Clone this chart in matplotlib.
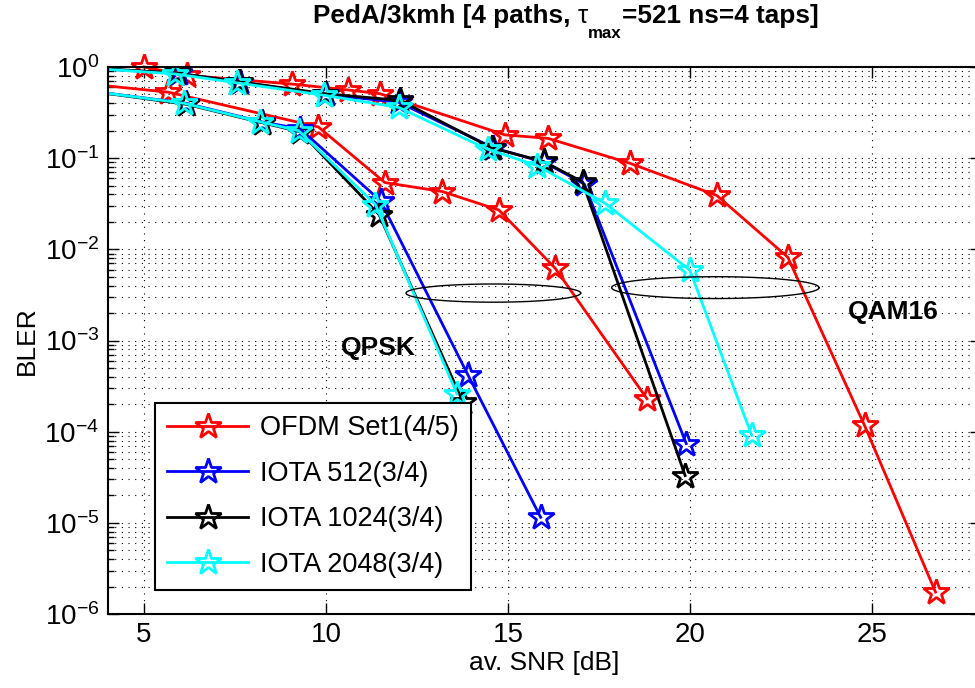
import numpy as np
import matplotlib
matplotlib.use("Agg")
import matplotlib.pyplot as plt

plt.rcParams['font.family'] = ['Liberation Sans', 'DejaVu Sans']
plt.rcParams['mathtext.fontset'] = 'custom'
plt.rcParams['mathtext.rm'] = 'Liberation Sans'
plt.rcParams['mathtext.it'] = 'Liberation Sans:italic'
plt.rcParams['mathtext.bf'] = 'Liberation Sans:bold'

# QPSK curves (lower group)
snr_ofdm_qpsk = [3.0, 5.66, 9.79, 11.62, 13.2, 14.75, 16.3, 18.82]
bler_ofdm_qpsk = [0.68, 0.53, 0.22, 0.054, 0.043, 0.027, 0.0062, 2.3e-4]
snr_iota512_qpsk = [3.0, 6.16, 8.24, 9.29, 11.5, 13.9, 15.9]
bler_iota512_qpsk = [0.58, 0.40, 0.25, 0.21, 0.034, 4.2e-4, 1.15e-5]
snr_iota1024_qpsk = [3.0, 6.16, 8.24, 9.29, 11.46, 13.77]
bler_iota1024_qpsk = [0.58, 0.39, 0.245, 0.195, 0.024, 2.1e-4]
snr_iota2048_qpsk = [3.0, 6.1, 8.2, 9.25, 11.36, 13.6]
bler_iota2048_qpsk = [0.58, 0.40, 0.25, 0.20, 0.031, 2.6e-4]

# QAM16 curves (upper group)
snr_ofdm_qam16 = [5.0, 6.18, 9.07, 10.6, 11.48, 14.92, 16.1, 18.35, 20.74, 22.69, 24.8, 26.75]
bler_ofdm_qam16 = [1.0, 0.81, 0.65, 0.56, 0.51, 0.18, 0.165, 0.088, 0.039, 0.0082, 1.17e-4, 1.74e-6]
snr_iota512_qam16 = [3.0, 5.95, 7.65, 10.0, 12.0, 14.6, 16.0, 17.1, 19.9]
bler_iota512_qam16 = [1.0, 0.85, 0.68, 0.50, 0.41, 0.13, 0.09, 0.052, 7.4e-5]
snr_iota1024_qam16 = [3.0, 5.9, 7.6, 9.97, 12.04, 14.55, 15.98, 17.05, 19.87]
bler_iota1024_qam16 = [1.0, 0.86, 0.69, 0.51, 0.43, 0.13, 0.092, 0.055, 3.3e-5]
snr_iota2048_qam16 = [3.0, 5.85, 7.55, 9.95, 12.0, 14.45, 15.8, 17.67, 20.0, 21.7]
bler_iota2048_qam16 = [1.0, 0.84, 0.67, 0.49, 0.36, 0.125, 0.083, 0.032, 0.0059, 9.1e-5]

labels = ['OFDM Set1(4/5)', 'IOTA 512(3/4)', 'IOTA 1024(3/4)', 'IOTA 2048(3/4)']
colors = ['#ff0000', '#0000ff', '#000000', '#00ffff']
x_ticks = [5, 10, 15, 20, 25]
y_ticks = [1e-6, 1e-5, 1e-4, 1e-3, 1e-2, 1e-1, 1]

# title pieces: (text, weight, size, baseline shift in px)
title_parts = [('PedA/3kmh [4 paths, ', 'bold', 18.8, 0), ('\u03c4', 'normal', 18.8, 0),
               ('max', 'bold', 12.2, -15), ('=521 ns=4 taps]', 'bold', 18.8, 0)]

# ellipse annotations: centre snr, centre log10(bler), half width [dB], half height [decades]
ell_qpsk = (14.6, -2.48, 2.4, 0.10)
ell_qam16 = (20.7, -2.42, 2.85, 0.12)

fig = plt.figure(figsize=(9.75, 6.88), dpi=100)
ax = fig.add_axes([107.6 / 975, 74 / 688, 873.4 / 975, 547 / 688])

qpsk = [(snr_ofdm_qpsk, bler_ofdm_qpsk), (snr_iota512_qpsk, bler_iota512_qpsk),
        (snr_iota1024_qpsk, bler_iota1024_qpsk), (snr_iota2048_qpsk, bler_iota2048_qpsk)]
qam16 = [(snr_ofdm_qam16, bler_ofdm_qam16), (snr_iota512_qam16, bler_iota512_qam16),
         (snr_iota1024_qam16, bler_iota1024_qam16), (snr_iota2048_qam16, bler_iota2048_qam16)]

style = dict(lw=2, marker='*', ms=19, mfc='none', mew=2)
for i in range(4):
    # OFDM QAM16 curve lies fully inside the x range, its first star pokes above the box
    ax.semilogy(qam16[i][0], qam16[i][1], color=colors[i], label=labels[i],
                clip_on=(i != 0), **style)
    ax.semilogy(qpsk[i][0], qpsk[i][1], color=colors[i], label='_nolegend_', **style)

t = np.linspace(0, 2 * np.pi, 200)
for cx, cy, a, b in [ell_qpsk, ell_qam16]:
    ax.plot(cx + a * np.cos(t), 10 ** (cy + b * np.sin(t)), color='k', lw=1)

ax.text(11.44, 10 ** -3.08, 'QPSK', fontsize=19, fontweight='bold', ha='center', va='center')
ax.text(25.6, 10 ** -2.69, 'QAM16', fontsize=19, fontweight='bold', ha='center', va='center')

ax.set_xlim(4, 28)
ax.set_ylim(1e-6, 1)
ax.set_xticks(x_ticks)
ax.set_yticks(y_ticks)
ax.xaxis.set_minor_locator(matplotlib.ticker.NullLocator())
ax.yaxis.set_minor_locator(matplotlib.ticker.LogLocator(base=10, subs=np.arange(2, 10)))
ax.yaxis.set_minor_formatter(matplotlib.ticker.NullFormatter())
ax.tick_params(which='both', direction='in', top=True, right=True, labelsize=20)
ax.tick_params(which='major', length=8, width=1, pad=6)
ax.tick_params(which='minor', length=4, width=1)
ax.grid(True, which='major', axis='both', color='k', ls=(0, (1, 5)), lw=0.8)
ax.grid(True, which='minor', axis='y', color='k', ls=(0, (1, 5)), lw=0.8)
for s in ax.spines.values():
    s.set_linewidth(1.5)

ax.set_xlabel('av. SNR [dB]', fontsize=19, labelpad=2)
ax.set_ylabel('BLER', fontsize=19, labelpad=4)

# title built piece by piece so the subscript sits low like the original
renderer = fig.canvas.get_renderer()
W, H = fig.get_size_inches() * fig.dpi
texts = []
for s, w, size, dy in title_parts:
    tx = fig.text(0, 1 - (23 - dy) / H, s, fontsize=size, fontweight=w, va='baseline', ha='left')
    texts.append(tx)
widths = [tx.get_window_extent(renderer).width for tx in texts]
x0 = 566 - sum(widths) / 2
for tx, w in zip(texts, widths):
    tx.set_x(x0 / W)
    x0 += w

leg = ax.legend(loc='lower left', bbox_to_anchor=(0.054, 0.044), borderaxespad=0,
                fontsize=19.5, fancybox=False, edgecolor='k', framealpha=1,
                handlelength=3.0, labelspacing=0.72, borderpad=0.45, handletextpad=0.45)
leg.get_frame().set_linewidth(1.5)

fig.savefig('out.png', dpi=100)
